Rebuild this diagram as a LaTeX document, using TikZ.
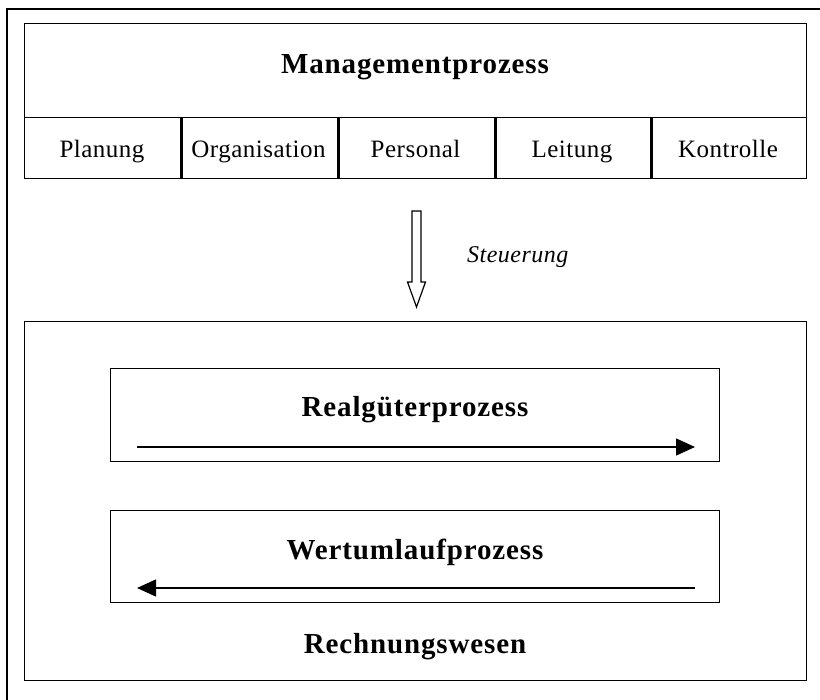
\documentclass[tikz,border=0pt]{standalone}
\usepackage{fontspec}
\setmainfont{Liberation Serif}
\newfontfamily\hdfont{Liberation Serif}[LetterSpace=3]
\newfontfamily\cellfont{Liberation Serif}[LetterSpace=2]
\usetikzlibrary{arrows.meta}
\begin{document}
\begin{tikzpicture}[x=1pt,y=-1pt,
  box/.style={draw, line width=1.3pt, inner sep=0pt, anchor=north west},
  hd/.style={anchor=base, inner sep=0pt, font=\hdfont\bfseries\fontsize{29}{32}\selectfont},
  ct/.style={anchor=base, inner sep=0pt, font=\cellfont\fontsize{25}{28}\selectfont},
  divider/.style={line width=2.8pt},
  flow/.style={line width=1.4pt, -{Triangle[length=19pt,width=17pt]}},
  hollow/.style={draw, line width=1.2pt, line join=miter}
  ]
\useasboundingbox (0,0) rectangle (820,700);
% outer frame (cut off at right and bottom)
\draw[line width=1.3pt] (7,700) -- (7,9) -- (820,9);

% Managementprozess
\node[box, minimum width=782pt, minimum height=94pt] (mgmt) at (24,23) {};
\node[hd] (tm) at (415,74) {Managementprozess};

% cells
\node[box, minimum width=156pt, minimum height=61pt] (c1) at (24,117) {};
\node[box, minimum width=157pt, minimum height=61pt] (c2) at (180,117) {};
\node[box, minimum width=157pt, minimum height=61pt] (c3) at (337,117) {};
\node[box, minimum width=156pt, minimum height=61pt] (c4) at (494,117) {};
\node[box, minimum width=156pt, minimum height=61pt] (c5) at (650,117) {};
\foreach \c in {c1,c2,c3,c4}{\draw[divider] (\c.north east) -- (\c.south east);}
\node[ct] (t1) at (102,157.5) {Planung};
\node[ct] (t2) at (258.5,157.5) {Organisation};
\node[ct] (t3) at (415.5,157.5) {Personal};
\node[ct] (t4) at (572,157.5) {Leitung};
\node[ct] (t5) at (728,157.5) {Kontrolle};

% Steuerung arrow
\coordinate (ah) at (416.5,211);
\draw[hollow] (ah) ++(-4.5,0) -- ++(9,0) -- ++(0,71) -- ++(4.5,0) -- ++(-9,25) -- ++(-9,-25) -- ++(4.5,0) -- cycle;
\node[anchor=base west, inner sep=0pt, font=\cellfont\itshape\fontsize{24}{28}\selectfont] (steu) at (467,263) {Steuerung};

% Rechnungswesen
\node[box, minimum width=782pt, minimum height=359pt] (rw) at (24,321) {};
\node[box, minimum width=609pt, minimum height=93pt] (rg) at (110,368) {};
\node[box, minimum width=609pt, minimum height=92pt] (wu) at (110,510) {};
\node[hd] (tr) at (415,417) {Realgüterprozess};
\node[hd] (tw) at (415,560) {Wertumlaufprozess};
\node[hd] (tn) at (415,653) {Rechnungswesen};

\coordinate (rgA) at (137,447);
\coordinate (rgB) at (695,447);
\draw[flow] (rgA) -- (rgB);
\coordinate (wuA) at (695,588);
\coordinate (wuB) at (137,588);
\draw[flow] (wuA) -- (wuB);
\end{tikzpicture}
\end{document}
